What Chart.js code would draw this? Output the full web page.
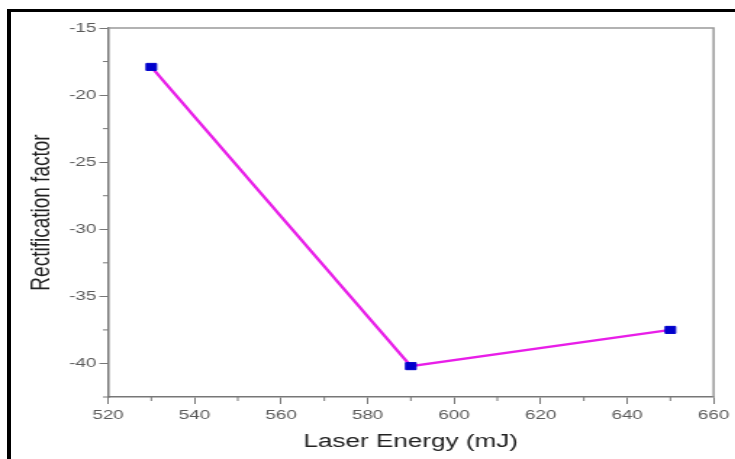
<!DOCTYPE html>
<html>
<head>
<meta charset="utf-8">
<script src="https://cdn.jsdelivr.net/npm/chart.js@4.4.1/dist/chart.umd.min.js"></script>
<style>
    html, body { margin: 0; padding: 0; background: #fff; overflow: hidden; }
    #page { position: relative; width: 735px; height: 459px; overflow: hidden; }
    /* black frame of the original figure, only top and left edges are in view */
    #frame { position: absolute; left: 7px; top: 9px; width: 780px; height: 500px; border-top: 3px solid #000; border-left: 4px solid #000; }
    /* the source picture is stretched sideways, so the chart is too */
    #wrap { position: absolute; left: 0; top: 0; width: 507px; height: 459px; transform: scaleX(1.45); transform-origin: 0 0; }
</style>
</head>
<body>
<div id="page">
    <div id="frame"></div>
    <div id="wrap"><canvas id="graph" width="507" height="459"></canvas></div>
</div>
<script>
// data
const energy = [530, 590, 650]
const rectFactor = [-17.9, -40.2, -37.5]

// tick labels
const xTicks = [520, 540, 560, 580, 600, 620, 640, 660]
const xMinor = [530, 550, 570, 590, 610, 630, 650]
const yTicks = [-15, -20, -25, -30, -35, -40]
const yMinor = [-17.5, -22.5, -27.5, -32.5, -37.5, -42.5]

Chart.defaults.font.family = '"Liberation Sans", Arial, sans-serif'

// box around the plot + small minor ticks
let frameAndMinor = {
    id: 'frameAndMinor',
    beforeDatasetsDraw(chart) {
        const { ctx, chartArea: a, scales: { x, y } } = chart
        ctx.save()
        ctx.strokeStyle = '#999'
        ctx.lineWidth = 1.5
        ctx.beginPath()
        ctx.moveTo(a.left, a.top)
        ctx.lineTo(a.right, a.top)
        ctx.lineTo(a.right, a.bottom)
        ctx.stroke()

        ctx.strokeStyle = '#777'
        ctx.lineWidth = 1
        ctx.beginPath()
        xMinor.forEach(v => {
            let px = x.getPixelForValue(v)
            ctx.moveTo(px, a.bottom)
            ctx.lineTo(px, a.bottom + 4)
        })
        yMinor.forEach(v => {
            let py = y.getPixelForValue(v)
            ctx.moveTo(a.left, py)
            ctx.lineTo(a.left - 3.5, py)
        })
        ctx.stroke()
        ctx.restore()
    }
}

let srx = document.getElementById('graph').getContext('2d')

let graph = new Chart(srx, {
    type: 'line',
    data: {
        datasets: [
            {
                label: 'Rectification factor',
                data: energy.map((e, i) => ({ x: e, y: rectFactor[i] })),
                borderColor: '#e81ee8',
                borderWidth: 2.3,
                pointStyle: 'rect',
                pointRadius: 5,
                pointBackgroundColor: '#0000cc',
                pointBorderColor: '#0000cc',
                pointBorderWidth: 1,
                tension: 0,
            },
        ]
    },
    options: {
        responsive: false,
        animation: false,
        layout: { padding: { top: 28, right: 13, bottom: 0, left: 0 } },
        plugins: {
            legend: { display: false },
            tooltip: { enabled: false },
        },
        scales: {
            x: {
                type: 'linear',
                min: 520,
                max: 660,
                afterBuildTicks: s => { s.ticks = xTicks.map(v => ({ value: v })) },
                afterFit: s => { s.height = 62 },
                grid: { drawOnChartArea: false, tickLength: 7, tickColor: '#777', tickWidth: 1 },
                border: { color: '#777', width: 1.5 },
                ticks: { color: '#5a5a5a', font: { size: 13 }, padding: 4, maxRotation: 0, autoSkip: false },
                title: {
                    display: true,
                    text: 'Laser Energy (mJ)',
                    color: '#222',
                    font: { size: 18 },
                    padding: { top: 0, bottom: 6 },
                },
            },
            y: {
                type: 'linear',
                min: -42.5,
                max: -15,
                afterBuildTicks: s => { s.ticks = yTicks.map(v => ({ value: v })) },
                afterFit: s => { s.width = 74.5 },
                grid: { drawOnChartArea: false, tickLength: 6, tickColor: '#777', tickWidth: 1 },
                border: { color: '#777', width: 1.5 },
                ticks: { color: '#5a5a5a', font: { size: 13 }, padding: 2 },
                title: {
                    display: true,
                    text: 'Rectification factor',
                    color: '#222',
                    font: { size: 19 },
                    padding: { top: 17, bottom: 0 },
                },
            },
        },
    },
    plugins: [frameAndMinor],
})
</script>
</body>
</html>
